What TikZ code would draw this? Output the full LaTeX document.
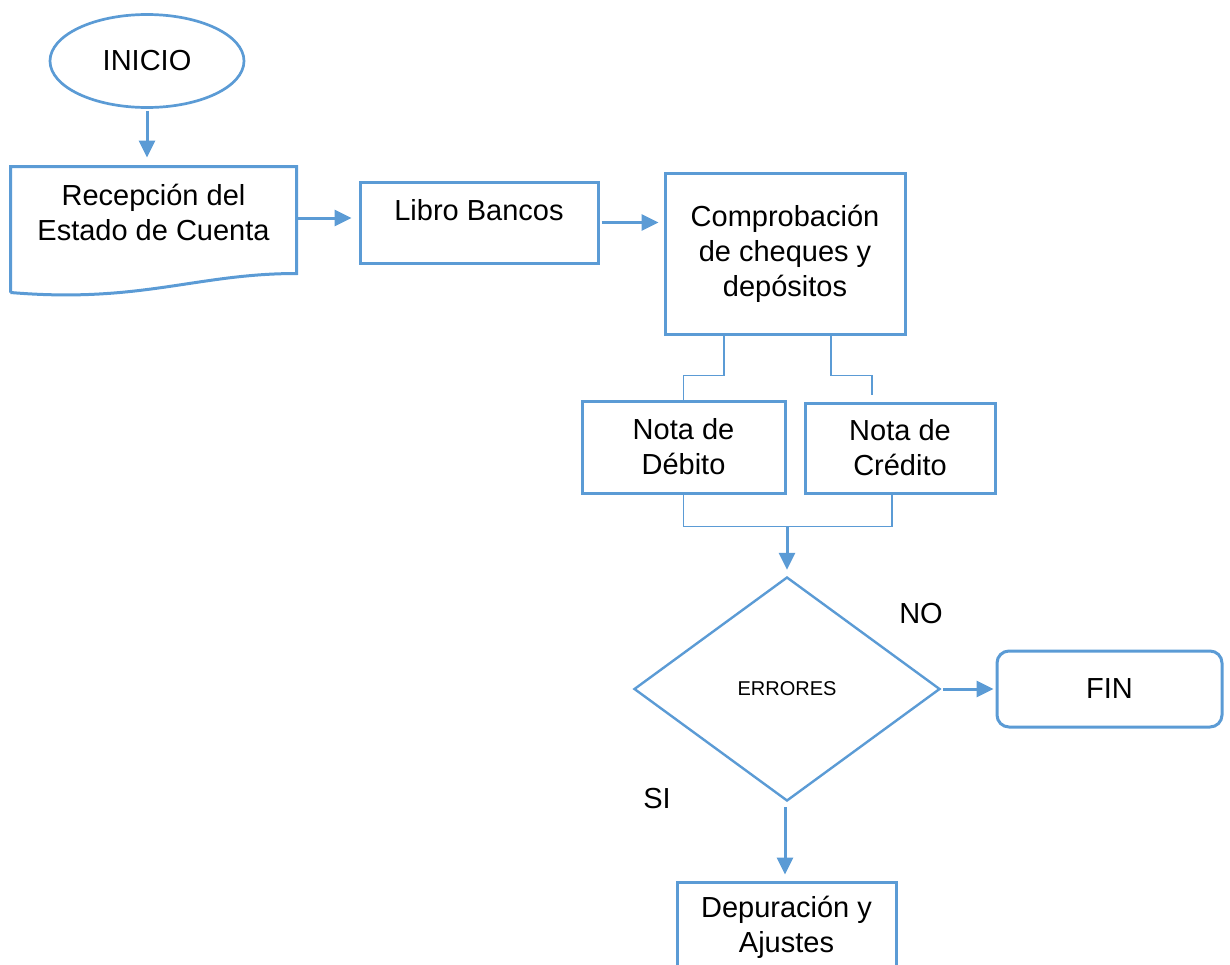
\documentclass[tikz,border=0pt]{standalone}
\usepackage{fontspec}
\setmainfont{Liberation Sans}
\usepackage{tikz}
\usetikzlibrary{shapes.geometric, arrows.meta, positioning}
\definecolor{wordblue}{HTML}{5B9BD5}
\tikzstyle{box} = [rectangle, draw=wordblue, line width=3pt, inner sep=0pt, align=center, font=\fontsize{29}{35}\selectfont]
\tikzstyle{doc} = [box, draw=none]
\tikzstyle{startstop} = [ellipse, draw=wordblue, line width=2.7pt, inner sep=0pt, font=\fontsize{29}{35}\selectfont]
\tikzstyle{endbox} = [box, rounded corners=12pt]
\tikzstyle{decision} = [diamond, draw=wordblue, line width=2.4pt, inner sep=0pt, font=\fontsize{20}{24}\selectfont]
\tikzstyle{arrow} = [line width=3pt, draw=wordblue, -{Triangle[width=16pt,length=17pt]}]
\tikzstyle{link} = [line width=1.5pt, draw=wordblue]
\tikzstyle{lbl} = [font=\fontsize{29}{35}\selectfont]

\begin{document}
\begin{tikzpicture}[x=1pt, y=-1pt]
    \useasboundingbox (0,0) rectangle (1230,964);
    \clip (0,0) rectangle (1230,964);

    \node[startstop, minimum width=194pt, minimum height=93pt] (inicio) at (147,61) {INICIO};
    \node[doc, minimum width=283pt, minimum height=88pt] (recep) at (153.5,212) {Recepción del\\Estado de Cuenta};
    \node[box, minimum width=238pt, minimum height=81pt, text depth=25pt] (libro) at (479,222.5) {Libro Bancos};
    \node[box, minimum width=240pt, minimum height=161pt] (comp) at (785,253.5) {Comprobación\\de cheques y\\depósitos};
    \node[box, minimum width=203pt, minimum height=92pt] (debito) at (683.5,447) {Nota de\\Débito};
    \node[box, minimum width=190pt, minimum height=90pt] (credito) at (900,448) {Nota de\\Crédito};
    \node[decision, minimum width=306pt, minimum height=224pt] (errores) at (787,689) {ERRORES};
    \node[endbox, minimum width=225pt, minimum height=76pt] (fin) at (1109.5,689) {FIN};
    \node[box, minimum width=219pt, minimum height=91pt] (depur) at (786.5,927.5) {Depuración y\\Ajustes};
    \node[lbl] (no) at (921,614) {NO};
    \node[lbl] (si) at (657,799) {SI};

    % documento con borde ondulado
    \draw[wordblue, line width=3pt]
    ([yshift=-35pt]recep.south west) -- (recep.north west) -- (recep.north east)
    -- ([yshift=-16pt]recep.south east)
    .. controls ([xshift=-100pt,yshift=-16pt]recep.south east) and ([xshift=130pt,yshift=-46pt]recep.south west) .. ([yshift=-35pt]recep.south west);

    \draw[arrow, shorten <=2pt, shorten >=9pt] (inicio.south) -- (inicio.south |- recep.north);
    \draw[arrow, shorten >=7pt] ([yshift=-6pt]recep.east) -- ([yshift=-6pt]recep.east -| libro.west);
    \draw[arrow, shorten <=2pt, shorten >=5pt] (libro.east) -- (libro.east -| comp.west);

    \draw[link] ([xshift=-61pt]comp.south) -- ++(0,40) -| (debito.north);
    \draw[link] ([xshift=46pt]comp.south) -- ++(0,40) -| ([xshift=-28pt,yshift=7pt]credito.north);
    \draw[link] (debito.south) -- ++(0,32) coordinate (djoin) -| ([xshift=-8pt]credito.south);
    \draw[arrow, shorten >=6pt] (djoin -| errores.north) -- (errores.north);

    \draw[arrow, shorten <=2pt, shorten >=2pt] (errores.east) -- (errores.east -| fin.west);
    \draw[arrow, shorten <=5pt, shorten >=6pt] ([xshift=-2pt]errores.south) -- ([xshift=-2pt]errores.south |- depur.north);
\end{tikzpicture}
\end{document}
